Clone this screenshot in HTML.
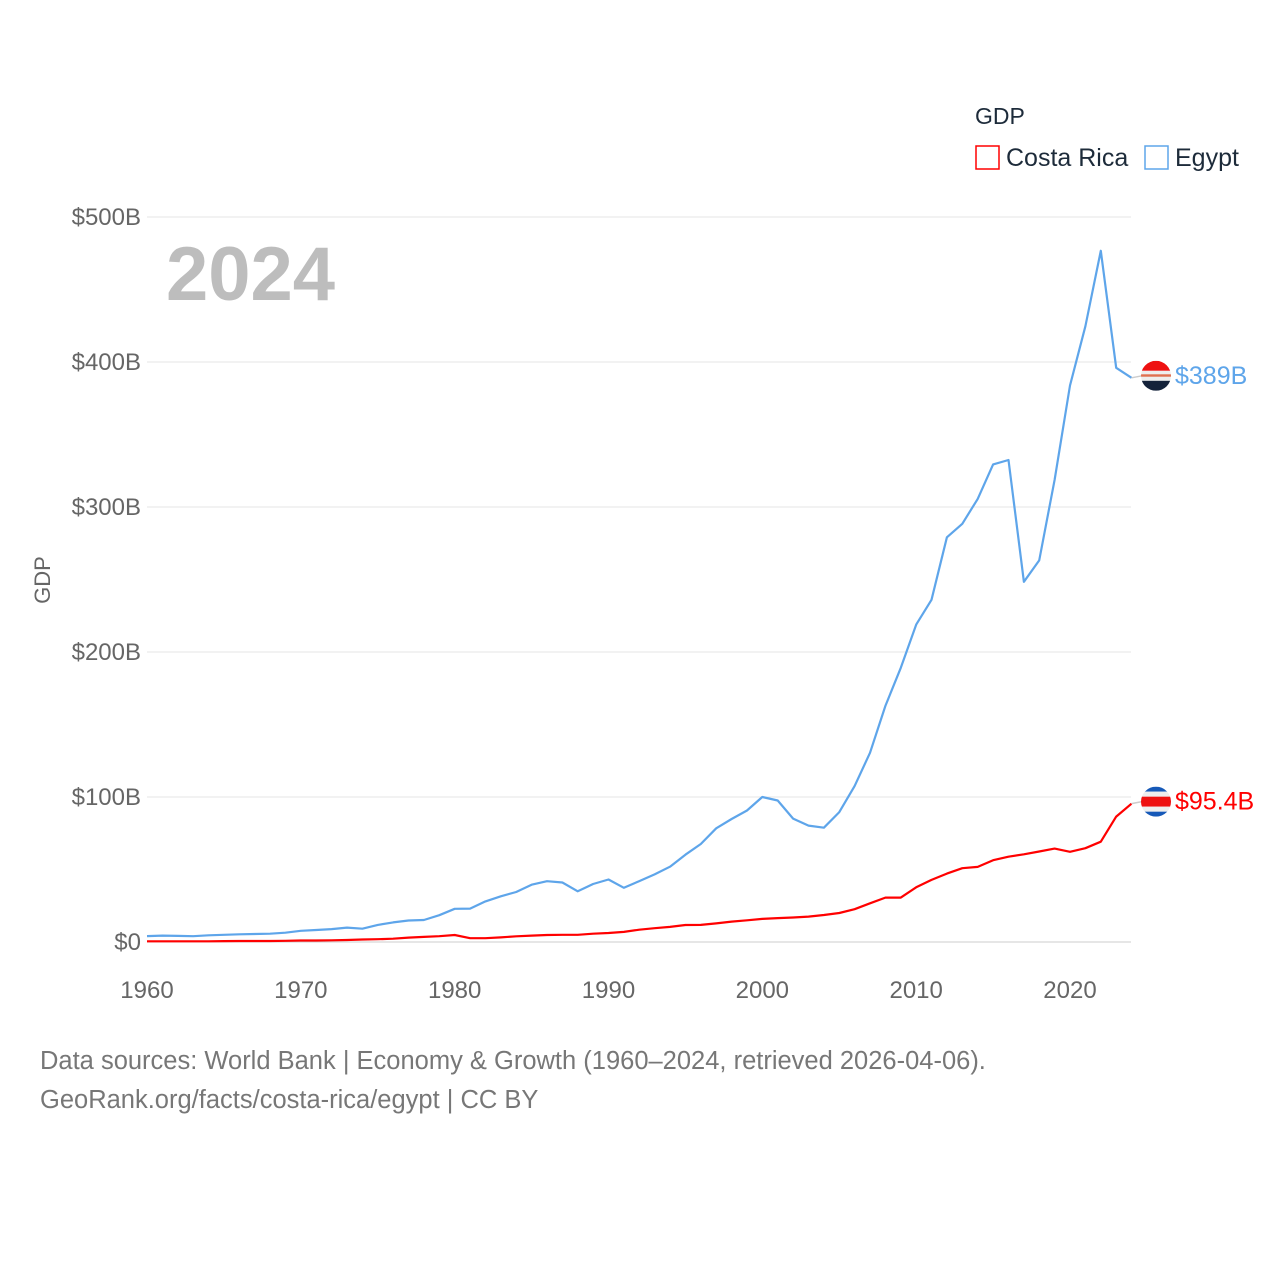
<!DOCTYPE html>
<html><head><meta charset="utf-8"><style>
body{margin:0;background:#fff;font-family:"Liberation Sans",sans-serif}
svg{display:block}
</style></head><body>
<svg id="chart" width="1280" height="1280">
<g id="grid"></g>
<g id="yt"></g>
<g id="xt"></g>
<text x="50" y="580" transform="rotate(-90 50 580)" text-anchor="middle" font-size="22" fill="#666">GDP</text>
<text x="166" y="300" font-size="76" font-weight="bold" fill="#bdbdbd">2024</text>
<text x="975" y="124" font-size="23" fill="#1d2b3a">GDP</text>
<g><rect x="976" y="146" width="23" height="23" fill="none" stroke="#ff0000" stroke-width="1.5"/><text x="1006" y="166" font-size="25" fill="#1d2b3a">Costa Rica</text></g>
<g><rect x="1145" y="146" width="23" height="23" fill="none" stroke="#5ea5ea" stroke-width="1.5"/><text x="1175" y="166" font-size="25" fill="#1d2b3a">Egypt</text></g>
<g id="series"></g>
<text x="40" y="1069" font-size="25.5" fill="#777">Data sources: World Bank | Economy &amp; Growth (1960–2024, retrieved 2026-04-06).</text>
<text x="40" y="1108" font-size="25.5" fill="#777">GeoRank.org/facts/costa-rica/egypt | CC BY</text>
</svg>
<script>
const years=[];for(let y=1960;y<=2024;y++)years.push(y);
const egypt=[4.1,4.4,4.2,4.0,4.6,5.0,5.3,5.5,5.7,6.4,7.7,8.3,8.9,9.9,9.2,11.8,13.5,14.8,15.2,18.5,22.9,23.0,28,31.5,34.5,39.5,41.9,41.0,35.0,40.0,43.1,37.4,42.0,46.6,51.9,60.2,67.6,78.4,84.8,90.7,100.0,97.6,85.1,80.3,78.8,89.6,107.5,130.5,162.8,189.1,218.9,236.0,279.1,288.4,305.6,329.4,332.4,248.4,263.2,318.7,383.8,424.7,476.7,396.0,389.1];
const costa=[0.5,0.5,0.5,0.5,0.5,0.6,0.7,0.7,0.7,0.8,1.0,1.0,1.2,1.4,1.7,1.9,2.3,3.0,3.5,4.0,4.8,2.6,2.6,3.2,3.9,4.4,4.8,5.0,5.0,5.7,6.2,7.0,8.5,9.5,10.4,11.7,11.8,12.8,14.1,15.0,15.9,16.5,16.9,17.5,18.6,20.0,22.6,26.7,30.6,30.6,37.7,42.8,47.2,50.9,51.8,56.4,58.8,60.5,62.4,64.4,62.2,64.7,69.2,86.5,95.4];
const yTicks=[0,100,200,300,400,500];
const yTickLabels=["$0","$100B","$200B","$300B","$400B","$500B"];
const xTicks=[1960,1970,1980,1990,2000,2010,2020];
const ns="http://www.w3.org/2000/svg";
const X=y=>147+(y-1960)*923/60;
const Y=v=>942-v*1.45;
function mk(t,a,p){const e=document.createElementNS(ns,t);for(const k in a)e.setAttribute(k,a[k]);p.appendChild(e);return e;}
const grid=document.getElementById('grid'),yt=document.getElementById('yt'),xt=document.getElementById('xt'),ser=document.getElementById('series');
yTicks.forEach((v,i)=>{
 const l=mk('line',{x1:147,x2:1131,y1:Y(v),y2:Y(v),stroke:v===0?'#ccc':'#e6e6e6','stroke-width':1},grid);
 
 
 const t=mk('text',{x:141,y:Y(v)+8,'text-anchor':'end','font-size':24,fill:'#666'},yt);
 t.textContent=yTickLabels[i];
 
 
});
xTicks.forEach(v=>{
 const t=mk('text',{x:X(v),y:998,'text-anchor':'middle','font-size':24,fill:'#666'},xt);
 t.textContent=v;
 
 
});
function series(vals,color,name,label,flag){
 const g=mk('g',{},ser);
 
 
 const d=vals.map((v,i)=>(i?'L':'M')+X(years[i]).toFixed(1)+','+Y(v).toFixed(1)).join('');
 const p=mk('path',{d:d,fill:'none',stroke:color,'stroke-width':2.2,'stroke-linejoin':'round'},g);
 
 
 const last=vals[vals.length-1],ly=Y(last)-2;
 mk('line',{x1:X(2024),y1:Y(last),x2:1142,y2:ly,stroke:'#ccc','stroke-width':1.5},g);
 const f=mk('g',{},g);
 
 
 const cp=mk('clipPath',{id:'cp'+name},f);mk('circle',{cx:1156,cy:ly,r:15},cp);
 flag.forEach(s=>mk('rect',{x:1141,y:ly-15+s[0]*30,width:30,height:s[1]*30,fill:s[2],'clip-path':'url(#cp'+name+')'},f));
 const t=mk('text',{x:1175,y:ly+8,'font-size':25,fill:color},g);
 t.textContent=label;
 
 
}
series(costa,'#ff0000','costa-rica','$95.4B',[[0,1/6,'#1659b8'],[1/6,1/6,'#eee'],[2/6,2/6,'#ee1111'],[4/6,1/6,'#eee'],[5/6,1/6,'#1659b8']]);
series(egypt,'#5ea5ea','egypt','$389B',[[0,1/3,'#ee1111'],[1/3,1/3,'#eee'],[0.45,0.08,'#e07050'],[2/3,1/3,'#14223a']]);
</script>
</body></html>
